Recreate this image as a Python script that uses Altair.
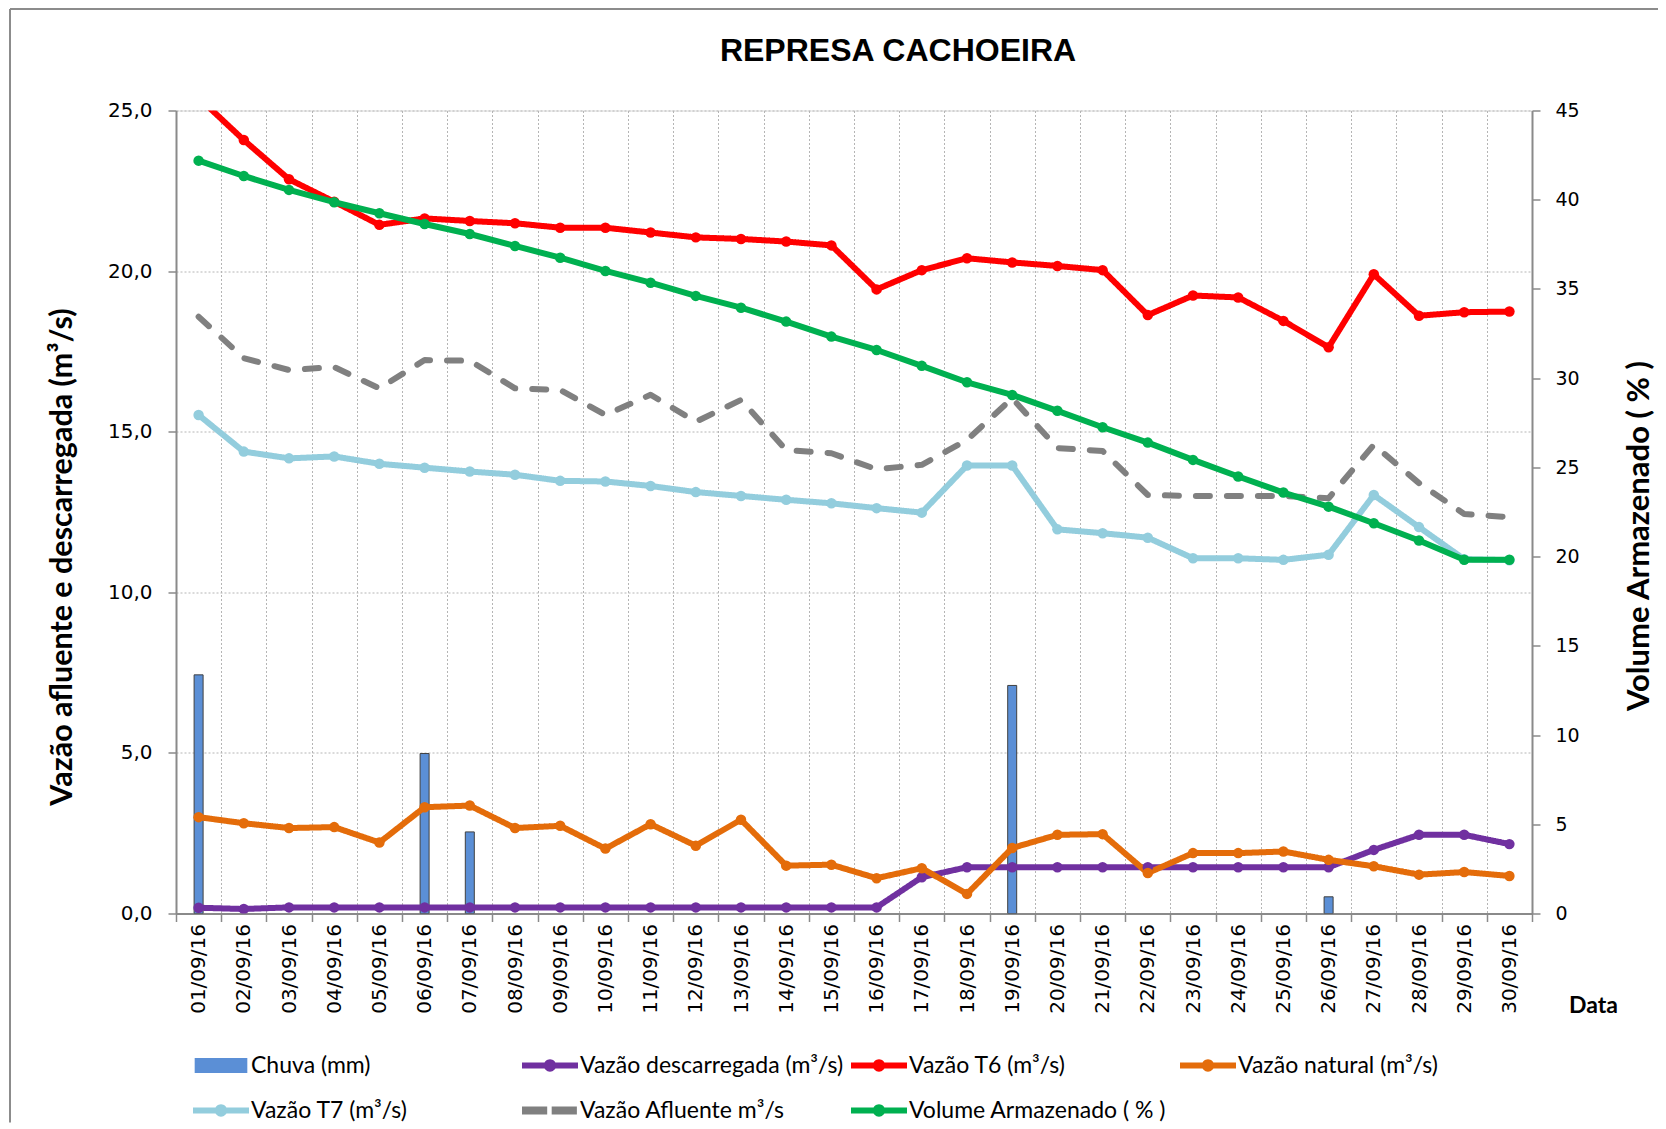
import altair as alt
import pandas as pd

dias = ["01/09/16", "02/09/16", "03/09/16", "04/09/16", "05/09/16", "06/09/16",
        "07/09/16", "08/09/16", "09/09/16", "10/09/16", "11/09/16", "12/09/16",
        "13/09/16", "14/09/16", "15/09/16", "16/09/16", "17/09/16", "18/09/16",
        "19/09/16", "20/09/16", "21/09/16", "22/09/16", "23/09/16", "24/09/16",
        "25/09/16", "26/09/16", "27/09/16", "28/09/16", "29/09/16", "30/09/16"]

chuva = [7.43, 0, 0, 0, 0, 4.98, 2.54, 0, 0, 0, 0, 0, 0, 0, 0,
         0, 0, 0, 7.10, 0, 0, 0, 0, 0, 0, 0.52, 0, 0, 0, 0]
descarregada = [0.18, 0.14, 0.19, 0.19, 0.19, 0.19, 0.19, 0.19, 0.19, 0.19,
                0.19, 0.19, 0.19, 0.19, 0.19, 0.19, 1.13, 1.44, 1.44, 1.44,
                1.44, 1.44, 1.44, 1.44, 1.44, 1.44, 1.98, 2.45, 2.45, 2.16]
t6 = [25.4, 24.08, 22.86, 22.16, 21.44, 21.64, 21.56, 21.49, 21.35, 21.35,
      21.20, 21.05, 21.00, 20.92, 20.80, 19.43, 20.03, 20.40, 20.27, 20.16,
      20.03, 18.63, 19.24, 19.18, 18.45, 17.63, 19.90, 18.61, 18.72, 18.74]
natural = [3.00, 2.81, 2.66, 2.69, 2.21, 3.31, 3.36, 2.66, 2.73, 2.02,
           2.78, 2.11, 2.92, 1.49, 1.52, 1.10, 1.41, 0.61, 2.04, 2.45,
           2.47, 1.26, 1.88, 1.88, 1.93, 1.67, 1.47, 1.21, 1.29, 1.17]
t7 = [15.52, 14.38, 14.17, 14.23, 14.00, 13.88, 13.76, 13.66, 13.47, 13.45,
      13.31, 13.12, 13.00, 12.88, 12.77, 12.62, 12.48, 13.95, 13.95, 11.96,
      11.84, 11.70, 11.06, 11.06, 11.01, 11.17, 13.03, 12.03, 11.03, 11.00]
afluente = [18.58, 17.29, 16.92, 17.01, 16.35, 17.23, 17.21, 16.35, 16.30, 15.52,
            16.15, 15.31, 15.99, 14.43, 14.33, 13.83, 13.97, 14.74, 16.04, 14.49,
            14.40, 13.03, 13.00, 13.00, 13.00, 12.93, 14.59, 13.40, 12.44, 12.34]
volume = [42.19, 41.33, 40.55, 39.86, 39.24, 38.64, 38.08, 37.41, 36.75, 36.01,
          35.35, 34.61, 33.95, 33.17, 32.33, 31.58, 30.69, 29.77, 29.06, 28.17,
          27.25, 26.39, 25.42, 24.49, 23.59, 22.80, 21.87, 20.90, 19.82, 19.82]

series = ["Chuva (mm)", "Vazão descarregada (m³/s)", "Vazão T6  (m³/s)",
          "Vazão natural (m³/s)", "Vazão T7 (m³/s)", "Vazão Afluente m³/s",
          "Volume Armazenado ( % )"]
cores = ["#5b8fd6", "#7030a0", "#ff0000", "#e46c0a", "#93cddd", "#808080", "#00b050"]

LINE_DOT = "M-1,-0.11H1V0.11H-1Z M0.22,0A0.22,0.22 0 1 1 -0.22,0A0.22,0.22 0 1 1 0.22,0Z"
simbolos = [
    "M-0.94,-0.27H0.94V0.27H-0.94Z",
    LINE_DOT, LINE_DOT, LINE_DOT, LINE_DOT,
    "M-1,-0.14H-0.1V0.14H-1Z M0.06,-0.14H0.96V0.14H0.06Z",
    LINE_DOT,
]

valores = [chuva, descarregada, t6, natural, t7, afluente, volume]
rows = []
for s, vals in zip(series, valores):
    for d, v in zip(dias, vals):
        rows.append({"dia": d, "serie": s, "valor": v})
df = pd.DataFrame(rows)
df_leg = pd.DataFrame({"dia": [dias[0]] * len(series), "serie": series,
                       "valor": [None] * len(series)})

color_scale = alt.Scale(domain=series, range=cores)

X = alt.X("dia:N", sort=dias,
          scale=alt.Scale(type="band", domain=dias, paddingInner=0, paddingOuter=0),
          axis=alt.Axis(title="Data", labelAngle=270, tickBand="extent", grid=True,
                        gridDash=[2, 2], gridColor="#b5b5b5", gridWidth=1,
                        domainColor="#8a8a8a", domainWidth=2, tickColor="#8a8a8a",
                        tickSize=8, tickWidth=1.5, labelPadding=2,
                        labelFont="DejaVu Sans", labelFontSize=20, labelColor="#000000",
                        titleFont="Lato", titleFontWeight="bold", titleFontSize=23,
                        titleColor="#000000", titleX=1417, titleY=92,
                        titleAlign="center", titleBaseline="middle"))

YL = alt.Y("valor:Q", scale=alt.Scale(domain=[0, 25], nice=False, zero=True),
           axis=alt.Axis(values=[0, 5, 10, 15, 20, 25],
                         labelExpr="replace(format(datum.value, '.1f'), '.', ',')",
                         title="Vazão afluente e descarregada (m³/s)",
                         grid=True, gridDash=[2, 2], gridColor="#b5b5b5", gridWidth=1,
                         domainColor="#8a8a8a", domainWidth=2, tickColor="#8a8a8a",
                         tickSize=8, tickWidth=1.5, labelPadding=16,
                         labelFont="DejaVu Sans", labelFontSize=20, labelColor="#000000",
                         titleFont="Lato", titleFontWeight="bold", titleFontSize=30.5,
                         titleColor="#000000", titlePadding=30, titleY=446,
                         titleAlign="center"))

YR = alt.Y("valor:Q", scale=alt.Scale(domain=[0, 45], nice=False, zero=True),
           axis=alt.Axis(orient="right", values=list(range(0, 50, 5)), format="d",
                         title="Volume Armazenado ( % )", grid=False,
                         domainColor="#8a8a8a", domainWidth=2, tickColor="#8a8a8a",
                         tickSize=8, tickWidth=1.5, labelPadding=15,
                         labelFont="DejaVu Sans", labelFontSize=19, labelColor="#000000",
                         titleFont="Lato", titleFontWeight="bold", titleFontSize=31,
                         titleColor="#000000", titleAngle=270, titleBaseline="top",
                         titlePadding=45, titleY=425, titleAlign="center"))

base = alt.Chart(df)
left_lines = ["Vazão descarregada (m³/s)", "Vazão T6  (m³/s)", "Vazão natural (m³/s)",
              "Vazão T7 (m³/s)", "Vazão Afluente m³/s"]
left_points = ["Vazão descarregada (m³/s)", "Vazão T6  (m³/s)", "Vazão natural (m³/s)",
               "Vazão T7 (m³/s)"]

legenda = alt.Legend(title=None, orient="none", legendX=17, legendY=927, columns=4,
                     direction="horizontal",
                     columnPadding=7, rowPadding=5, symbolSize=3136, padding=0,
                     labelFont="Lato", labelFontSize=23, labelColor="#000000",
                     labelOffset=2, gridAlign="all", labelLimit=0, symbolStrokeWidth=0,
                     symbolOpacity=1)

legend_layer = alt.Chart(df_leg).mark_point(filled=True, opacity=1).encode(
    x=X, y=YL,
    color=alt.Color("serie:N", scale=color_scale, legend=legenda),
    shape=alt.Shape("serie:N", scale=alt.Scale(domain=series, range=simbolos), legend=legenda),
)

bars = base.transform_filter(
    (alt.datum.serie == "Chuva (mm)") & (alt.datum.valor > 0)
).mark_bar(size=9, stroke="#404040", strokeWidth=1, clip=True).encode(
    x=X, y=YL, color=alt.Color("serie:N", scale=color_scale, legend=None))

lines = base.transform_filter(
    alt.FieldOneOfPredicate(field="serie", oneOf=left_lines)
).mark_line(clip=True, strokeCap="round", strokeJoin="round").encode(
    x=X, y=YL,
    color=alt.Color("serie:N", scale=color_scale, legend=None),
    strokeDash=alt.StrokeDash("serie:N", legend=None,
                              scale=alt.Scale(domain=left_lines,
                                              range=[[1, 0], [1, 0], [1, 0], [1, 0], [14, 17]])),
    strokeWidth=alt.StrokeWidth("serie:N", legend=None,
                                scale=alt.Scale(domain=left_lines,
                                                range=[6, 6, 6, 6, 7.5])),
)

points = base.transform_filter(
    alt.FieldOneOfPredicate(field="serie", oneOf=left_points)
).mark_circle(size=110, opacity=1, clip=True).encode(
    x=X, y=YL, color=alt.Color("serie:N", scale=color_scale, legend=None)
)

frame_df = pd.DataFrame({"k": [0]})
frame_top = alt.Chart(frame_df).mark_rule(color="#8c8c8c", strokeWidth=2).encode(
    x=alt.value(-166), x2=alt.value(1500), y=alt.value(-101.5))
frame_left = alt.Chart(frame_df).mark_rule(color="#8c8c8c", strokeWidth=2).encode(
    x=alt.value(-166), y=alt.value(-101.5), y2=alt.value(1012))

left = alt.layer(legend_layer, frame_top, frame_left, bars, lines, points)

vol = base.transform_filter(alt.datum.serie == "Volume Armazenado ( % )")
right = alt.layer(
    vol.mark_line(strokeWidth=6, clip=True, strokeCap="round", strokeJoin="round").encode(
        x=X, y=YR, color=alt.Color("serie:N", scale=color_scale, legend=None)),
    vol.mark_circle(size=110, opacity=1, clip=True).encode(
        x=X, y=YR, color=alt.Color("serie:N", scale=color_scale, legend=None)),
)

chart = alt.layer(left, right).resolve_scale(y="independent").properties(
    width=1356, height=803,
    autosize=alt.AutoSizeParams(type="none"),
    padding={"left": 168, "top": 102.5, "right": 126, "bottom": 214},
    title=alt.TitleParams("REPRESA CACHOEIRA", font="Liberation Sans", fontSize=32,
                          fontWeight="bold", color="#000000", anchor="middle",
                          frame="group", dx=44, offset=-84.5, baseline="alphabetic"),
).configure_view(fill="#e6e6e6", stroke=None).configure(background="#ffffff")

chart.save("out.html", embed_options={"renderer": "svg", "actions": False})
